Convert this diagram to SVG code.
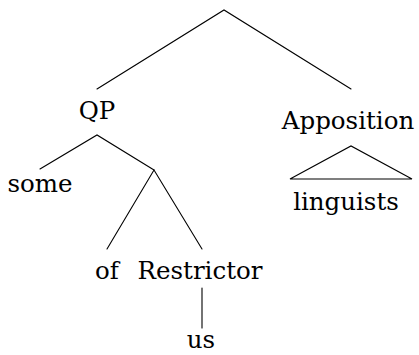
<svg xmlns="http://www.w3.org/2000/svg" width="419" height="355" viewBox="0 0 419 355">
  <style>
    .lbl { font-family: 'DejaVu Serif', serif; font-size: 24.5px; fill: #000; text-anchor: middle; }
    .edge { stroke: #000; stroke-width: 1.1; fill: none; stroke-linecap: round; stroke-linejoin: miter; }
  </style>
  <rect width="419" height="355" fill="#fff"/>
  <g id="connectors">
    <path class="edge" d="M97 89 L224 10 L351 89"/>
    <path class="edge" d="M40 169 L97 135 L154 170"/>
    <path class="edge" d="M107 249 L154 170 L202 249"/>
    <path class="edge" d="M202 288 L202 328"/>
    <path class="edge" d="M290 179 L351 146 L412 179 Z"/>
  </g>
  <g id="node-qp"><text class="lbl" x="97" y="119">QP</text></g>
  <g id="node-apposition"><text class="lbl" x="348" y="129">Apposition</text></g>
  <g id="node-some"><text class="lbl" x="40" y="192">some</text></g>
  <g id="node-of"><text class="lbl" x="107" y="279">of</text></g>
  <g id="node-restrictor"><text class="lbl" x="200" y="279">Restrictor</text></g>
  <g id="node-us"><text class="lbl" x="201" y="348">us</text></g>
  <g id="node-linguists"><text class="lbl" x="346" y="210">linguists</text></g>
</svg>
